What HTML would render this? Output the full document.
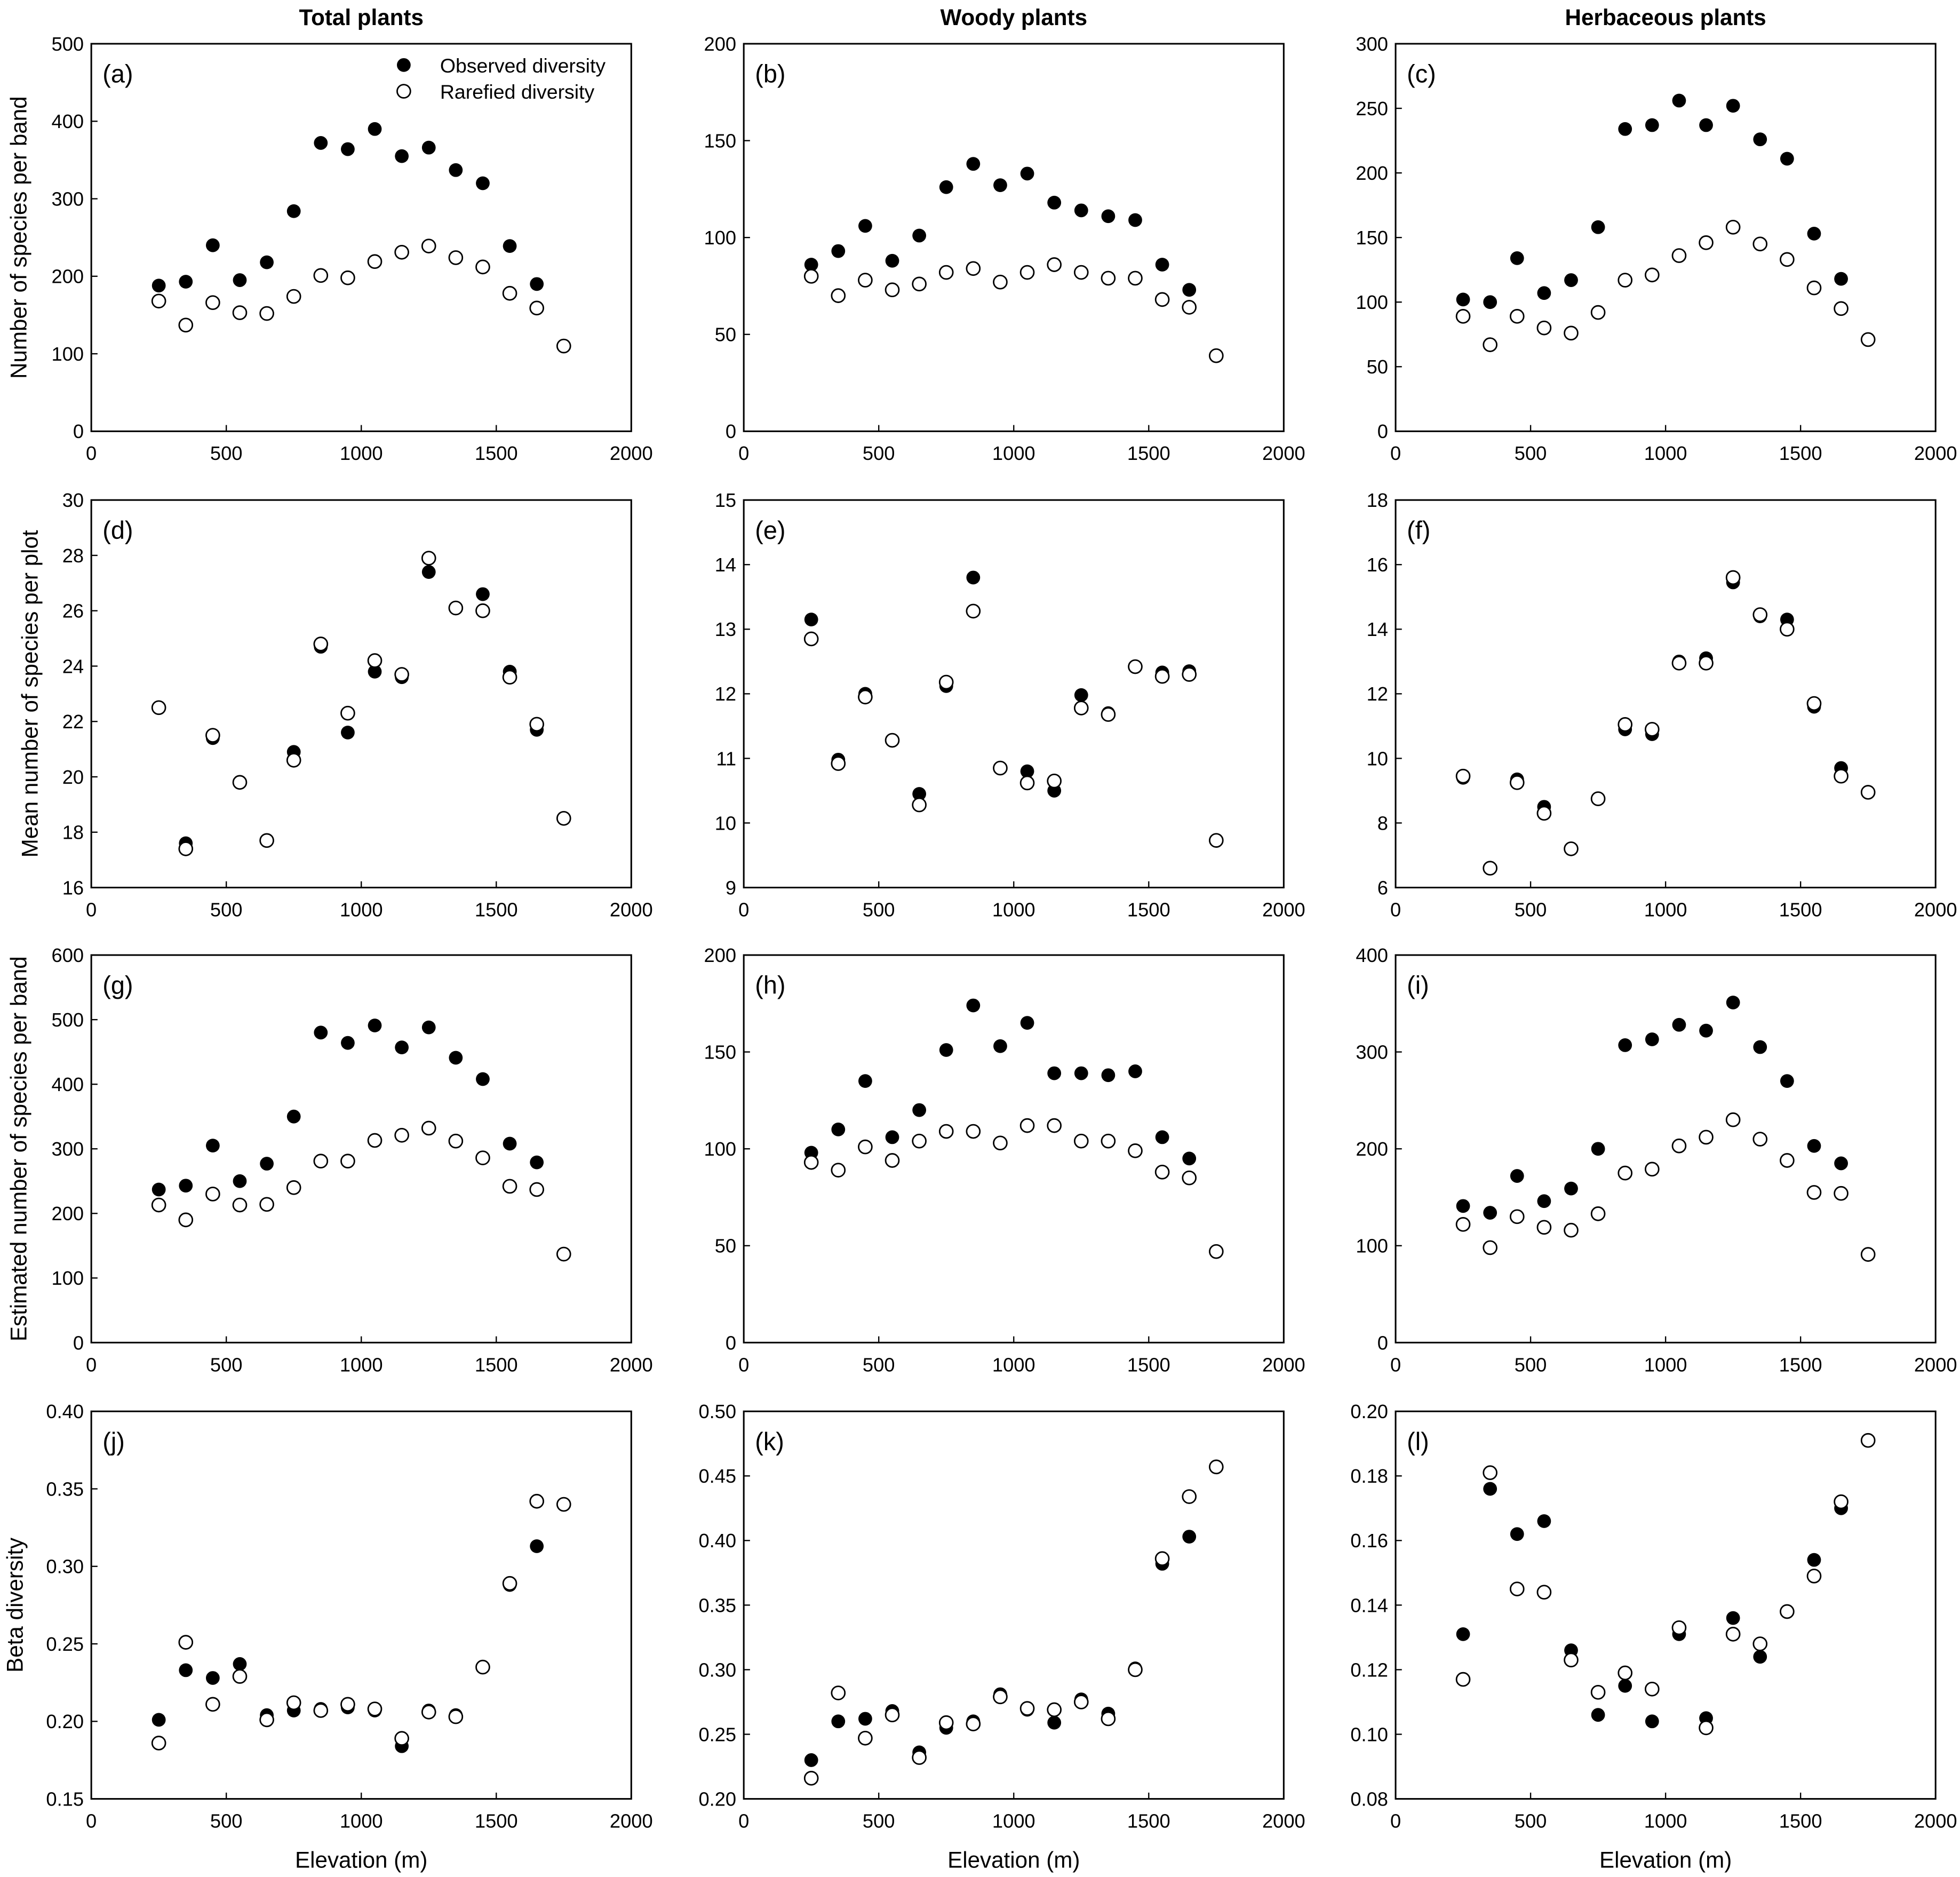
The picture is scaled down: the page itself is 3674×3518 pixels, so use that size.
<!DOCTYPE html>
<html><head><meta charset="utf-8"><style>html,body{margin:0;padding:0;background:#fff}svg{display:block}</style></head>
<body>
<svg id="fig" xmlns="http://www.w3.org/2000/svg" width="3674" height="3518" viewBox="0 0 1568 1501.5" font-family="Liberation Sans, Arial, sans-serif"></svg>
<script>
const elev = [250,350,450,550,650,750,850,950,1050,1150,1250,1350,1450,1550,1650,1750];
const xTicks = [0,500,1000,1500,2000];
const obsA=[188,193,240,195,218,284,372,364,390,355,366,337,320,239,190];
const rarA=[168,137,166,153,152,174,201,198,219,231,239,224,212,178,159,110];
const obsB=[86,93,106,88,101,126,138,127,133,118,114,111,109,86,73];
const rarB=[80,70,78,73,76,82,84,77,82,86,82,79,79,68,64,39];
const obsC=[102,100,134,107,117,158,234,237,256,237,252,226,211,153,118];
const rarC=[89,67,89,80,76,92,117,121,136,146,158,145,133,111,95,71];
const obsD=[22.5,17.6,21.4,19.8,17.7,20.9,24.7,21.6,23.8,23.6,27.4,26.1,26.6,23.8,21.7];
const rarD=[22.5,17.4,21.5,19.8,17.7,20.6,24.8,22.3,24.2,23.7,27.9,26.1,26.0,23.6,21.9,18.5];
const obsE=[13.15,10.98,12.0,11.28,10.45,12.12,13.8,10.85,10.8,10.5,11.98,11.7,12.42,12.33,12.35];
const rarE=[12.85,10.92,11.95,11.28,10.28,12.18,13.28,10.85,10.62,10.65,11.78,11.68,12.42,12.27,12.3,9.73];
const obsF=[9.4,6.6,9.35,8.5,7.2,8.75,10.9,10.75,13.0,13.1,15.45,14.4,14.3,11.6,9.7];
const rarF=[9.45,6.6,9.25,8.3,7.2,8.75,11.05,10.9,12.95,12.95,15.6,14.45,14.0,11.7,9.45,8.95];
const obsG=[237,243,305,250,277,350,480,464,491,457,488,441,408,308,279];
const rarG=[213,190,230,213,214,240,281,281,313,321,332,312,286,242,237,137];
const obsH=[98,110,135,106,120,151,174,153,165,139,139,138,140,106,95];
const rarH=[93,89,101,94,104,109,109,103,112,112,104,104,99,88,85,47];
const obsI=[141,134,172,146,159,200,307,313,328,322,351,305,270,203,185];
const rarI=[122,98,130,119,116,133,175,179,203,212,230,210,188,155,154,91];
const obsJ=[.201,.233,.228,.237,.204,.207,.208,.209,.207,.184,.207,.204,.235,.288,.313];
const rarJ=[.186,.251,.211,.229,.201,.212,.207,.211,.208,.189,.206,.203,.235,.289,.342,.340];
const obsK=[.230,.260,.262,.268,.236,.255,.260,.281,.269,.259,.277,.266,.301,.382,.403];
const rarK=[.216,.282,.247,.265,.232,.259,.258,.279,.270,.269,.275,.262,.300,.386,.434,.457];
const obsL=[.131,.176,.162,.166,.126,.106,.115,.104,.131,.105,.136,.124,.138,.154,.170];
const rarL=[.117,.181,.145,.144,.123,.113,.119,.114,.133,.102,.131,.128,.138,.149,.172,.191];
const yTicksA=["0","100","200","300","400","500"];
const yTicksB=["0","50","100","150","200"];
const yTicksC=["0","50","100","150","200","250","300"];
const yTicksD=["16","18","20","22","24","26","28","30"];
const yTicksE=["9","10","11","12","13","14","15"];
const yTicksF=["6","8","10","12","14","16","18"];
const yTicksG=["0","100","200","300","400","500","600"];
const yTicksH=["0","50","100","150","200"];
const yTicksI=["0","100","200","300","400"];
const yTicksJ=["0.15","0.20","0.25","0.30","0.35","0.40"];
const yTicksK=["0.20","0.25","0.30","0.35","0.40","0.45","0.50"];
const yTicksL=["0.08","0.10","0.12","0.14","0.16","0.18","0.20"];

const svg=document.getElementById('fig');
const NS='http://www.w3.org/2000/svg';
function mk(tag,attrs,parent){const e=document.createElementNS(NS,tag);for(const k in attrs)e.setAttribute(k,attrs[k]);(parent||svg).appendChild(e);return e;}
const colL=[73,595,1116.5], rowT=[35,400,764,1129], W=432, H=310;
const panels=[
 ['a',obsA,rarA,yTicksA],['b',obsB,rarB,yTicksB],['c',obsC,rarC,yTicksC],
 ['d',obsD,rarD,yTicksD],['e',obsE,rarE,yTicksE],['f',obsF,rarF,yTicksF],
 ['g',obsG,rarG,yTicksG],['h',obsH,rarH,yTicksH],['i',obsI,rarI,yTicksI],
 ['j',obsJ,rarJ,yTicksJ],['k',obsK,rarK,yTicksK],['l',obsL,rarL,yTicksL]];
panels.forEach((p,idx)=>{
  const [lab,obs,rar,yt]=p;
  const L=colL[idx%3], T=rowT[Math.floor(idx/3)];
  const g=mk('g',{});
  
  
  const ymin=parseFloat(yt[0]), ymax=parseFloat(yt[yt.length-1]);
  const xs=v=>L+v/2000*W;
  const ys=v=>T+H-(v-ymin)/(ymax-ymin)*H;
  const fr=mk('rect',{x:L,y:T,width:W,height:H,fill:'none',stroke:'#000','stroke-width':1.3},g);
  
  
  xTicks.forEach(t=>{
    mk('line',{x1:xs(t),x2:xs(t),y1:T+H,y2:T+H-5,stroke:'#000','stroke-width':1},g);
    const tx=mk('text',{x:xs(t),y:T+H+23,'text-anchor':'middle','font-size':15.5},g);
    tx.textContent=t;
    
    
  });
  yt.forEach(t=>{
    const v=parseFloat(t);
    mk('line',{x1:L,x2:L+5,y1:ys(v),y2:ys(v),stroke:'#000','stroke-width':1},g);
    const tx=mk('text',{x:L-6,y:ys(v)+5.5,'text-anchor':'end','font-size':15.5},g);
    tx.textContent=t;
    
    
  });
  const pl=mk('text',{x:L+9,y:T+31,'font-size':20},g);
  pl.textContent='('+lab+')';
  
  
  obs.forEach((v,i)=>{
    const c=mk('circle',{cx:xs(elev[i]),cy:ys(v),r:5.5,fill:'#000'},g);
    
    
  });
  rar.forEach((v,i)=>{
    const c=mk('circle',{cx:xs(elev[i]),cy:ys(v),r:5.3,fill:'#fff',stroke:'#000','stroke-width':1.2},g);
    
    
  });
});
const lg=mk('g',{});


mk('circle',{cx:323,cy:52,r:5.5,fill:'#000'},lg);
mk('circle',{cx:323,cy:73,r:5.3,fill:'#fff',stroke:'#000','stroke-width':1.2},lg);
const l1=mk('text',{x:352,y:58,'font-size':16},lg);l1.textContent='Observed diversity';


const l2=mk('text',{x:352,y:79,'font-size':16},lg);l2.textContent='Rarefied diversity';


['Total plants','Woody plants','Herbaceous plants'].forEach((t,i)=>{
  const e=mk('text',{x:colL[i]+W/2,y:20,'text-anchor':'middle','font-size':18,'font-weight':'bold'});
  e.textContent=t;
  
  
});
[['Number of species per band',21],['Mean number of species per plot',30],['Estimated number of species per band',21],['Beta diversity',18]].forEach((p,i)=>{
  const cy=rowT[i]+H/2;
  const e=mk('text',{x:p[1],y:cy,'text-anchor':'middle','font-size':18,transform:`rotate(-90 ${p[1]} ${cy})`});
  e.textContent=p[0];
  
  
});
colL.forEach(L=>{
  const e=mk('text',{x:L+W/2,y:1494,'text-anchor':'middle','font-size':18});
  e.textContent='Elevation (m)';
  
  
});
</script>
</body></html>
